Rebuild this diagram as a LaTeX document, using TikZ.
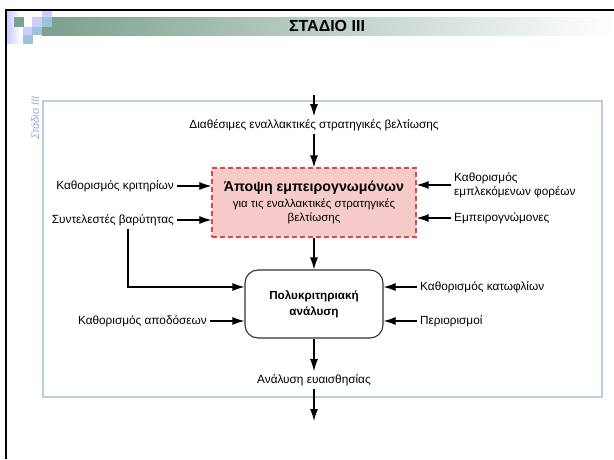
\documentclass[tikz,border=0pt]{standalone}
\usepackage{fontspec}
\setmainfont{Liberation Sans}
\usepackage{tikz}
\usetikzlibrary{shapes,arrows.meta,positioning,calc}
\definecolor{frameblue}{HTML}{BCCDE0}
\definecolor{stageblue}{HTML}{94AED2}
\definecolor{bandgreen}{HTML}{7BA08D}
\definecolor{lav}{HTML}{CCCCFF}
\definecolor{skyblue}{HTML}{9DC3D9}
\definecolor{pinkfill}{HTML}{F8CBCB}
\definecolor{dashred}{HTML}{E0464B}
\newcommand\Txt{\fontsize{11.8}{14}\selectfont}

\begin{document}
\begin{tikzpicture}[x=1pt, y=-1pt, on grid,
    txt/.style={font=\Txt, inner sep=3pt},
    flow/.style={-{Latex[length=12pt,width=8pt]}, line width=1.1pt},
    expbox/.style={draw=dashred, fill=pinkfill, dash pattern=on 5pt off 3pt, line width=1.2pt,
      minimum width=204pt, minimum height=69pt, align=center, font=\fontsize{11.5}{14.5}\selectfont},
    mcabox/.style={draw=black!80, rounded corners=13pt, line width=1.1pt, minimum width=138pt,
      minimum height=68pt, align=center, font=\bfseries\fontsize{11.7}{16}\selectfont}]
      \useasboundingbox (0,0) rectangle (614,459);

      % slide header
      \shade[left color=bandgreen, right color=white] (42,17) rectangle (614,35);
      \shade[left color=lav, right color=white] (7,11) rectangle (21,43);
      \fill[bandgreen] (14,17) rectangle (24,27);
      \fill[lav] (32,17) rectangle (42,27);
      \fill[lav] (42,11) rectangle (52,17);
      \fill[lav] (23,27) rectangle (32,35);
      \fill[skyblue] (42,17) rectangle (52,27);
      \fill[skyblue] (32,27) rectangle (42,35);
      \fill[skyblue] (23,35) rectangle (33,44);
      \draw[line width=2pt] (6,459) -- (6,10) -- (614,10);
      \node[font=\bfseries\fontsize{16}{18}\selectfont] (title) at (327,26) {ΣΤΑΔΙΟ III};

      % stage frame
      \draw[frameblue, line width=1.2pt] (43,101) rectangle (602,397);
      \node[rotate=90, text=stageblue, font=\itshape\fontsize{11}{12}\selectfont] (stage) at (35,118) {Στάδιο III};

      \coordinate (in) at (314,95);
      \node[txt] (avail) at (314,125) {Διαθέσιμες εναλλακτικές στρατηγικές βελτίωσης};
      \node[expbox, below=77.5pt of avail] (expert) {{\bfseries\fontsize{14.2}{16}\selectfont Άποψη εμπειρογνωμόνων}\\[1pt]
        για τις εναλλακτικές στρατηγικές\\ βελτίωσης};
      \node[mcabox, below=101.5pt of expert] (mca) {Πολυκριτηριακή\\ ανάλυση};
      \node[txt, below=76pt of mca] (sens) {Ανάλυση ευαισθησίας};
      \coordinate[below=41pt of sens] (out);

      \node[txt, anchor=east] (crit) at (177,186) {Καθορισμός κριτηρίων};
      \node[txt, anchor=east] (weights) at (177,220) {Συντελεστές βαρύτητας};
      \node[txt, anchor=west, align=left] (actors) at (451,185) {Καθορισμός\\ εμπλεκόμενων φορέων};
      \node[txt, anchor=west] (experts) at (451,218) {Εμπειρογνώμονες};
      \node[txt, anchor=east] (perf) at (210,321) {Καθορισμός αποδόσεων};
      \node[txt, anchor=west] (thresh) at (417,287) {Καθορισμός κατωφλίων};
      \node[txt, anchor=west] (constr) at (417,321) {Περιορισμοί};
      \coordinate (bend) at (128,287);

      \draw[flow] (in) -- (avail);
      \draw[flow] (avail) -- (expert);
      \draw[flow] (expert) -- (mca);
      \draw[flow] (mca) -- (sens);
      \draw[flow] (sens) -- (out);
      \draw[flow] (crit) -- (crit -| expert.west);
      \draw[flow] (weights) -- (weights -| expert.west);
      \draw[flow] (actors.west) -- (actors.west -| expert.east);
      \draw[flow] (experts) -- (experts -| expert.east);
      \draw[flow] (weights.south -| bend) -- (bend) -- (bend -| mca.west);
      \draw[flow] (perf) -- (perf -| mca.west);
      \draw[flow] (thresh) -- (thresh -| mca.east);
      \draw[flow] (constr) -- (constr -| mca.east);
    \end{tikzpicture}
\end{document}
